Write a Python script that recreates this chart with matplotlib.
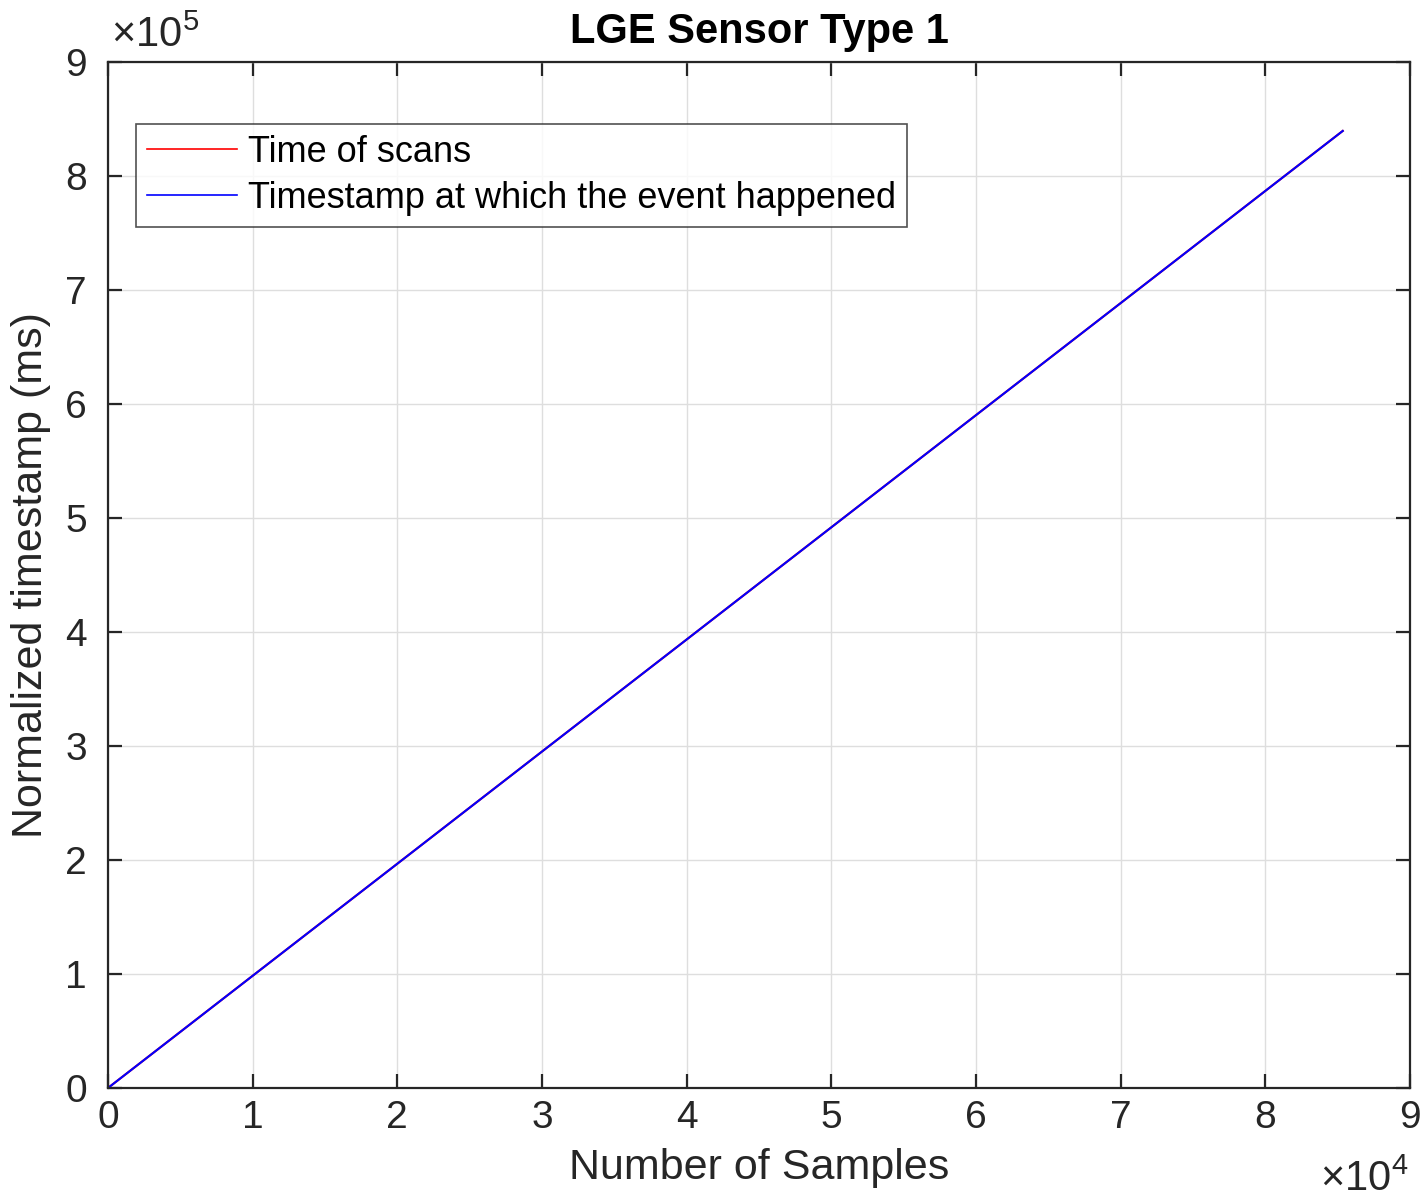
import matplotlib
matplotlib.use("Agg")
import matplotlib.pyplot as plt

plt.rcParams['font.family'] = ['Liberation Sans', 'DejaVu Sans']
plt.rcParams['mathtext.fontset'] = 'custom'
plt.rcParams['mathtext.rm'] = 'Liberation Sans'
plt.rcParams['mathtext.it'] = 'Liberation Sans'

# Sample index vs. normalized timestamp (ms)
samples = [0, 10000, 20000, 30000, 40000, 50000, 60000, 70000, 80000, 85350]
time_of_scans = [0, 98400, 196700, 295100, 393400, 491800, 590200, 688500, 786900, 839500]
event_timestamp = [0, 98400, 196700, 295100, 393400, 491800, 590200, 688500, 786900, 839500]

x_ticks = [0, 1, 2, 3, 4, 5, 6, 7, 8, 9]
y_ticks = [0, 1, 2, 3, 4, 5, 6, 7, 8, 9]

axis_color = '#262626'

fig = plt.figure(figsize=(14.26, 12.03), dpi=100)
ax = fig.add_axes([0.0757, 0.0956, 0.9131, 0.8529])

ax.plot(samples, time_of_scans, color='#ff0000', lw=1.5, label='Time of scans')
ax.plot(samples, event_timestamp, color='#0000ff', lw=1.5, label='Timestamp at which the event happened')

ax.set_xlim(0, 90000)
ax.set_ylim(0, 900000)
ax.set_xticks([v * 1e4 for v in x_ticks])
ax.set_xticklabels([str(v) for v in x_ticks])
ax.set_yticks([v * 1e5 for v in y_ticks])
ax.set_yticklabels([str(v) for v in y_ticks])

ax.grid(True, color='#dedede', lw=1.0)
ax.set_axisbelow(True)
for s in ax.spines.values():
    s.set_color(axis_color)
    s.set_linewidth(1.6)
ax.tick_params(direction='in', length=10, width=1.6, colors=axis_color,
               labelsize=28, top=True, right=True)
ax.tick_params(axis='x', pad=9)
ax.tick_params(axis='y', pad=15)

ax.set_xlabel('Number of Samples', fontsize=31, color=axis_color, labelpad=8)
ax.set_ylabel('Normalized timestamp (ms)', fontsize=31, color=axis_color, labelpad=10)
ax.set_title('LGE Sensor Type 1', fontsize=30, fontweight='bold', color='black', pad=14)

ax.text(0.002, 1.006, r'$\times10^5$', transform=ax.transAxes, fontsize=30,
        color=axis_color, ha='left', va='bottom')
ax.text(0.999, -0.070, r'$\times10^4$', transform=ax.transAxes, fontsize=30,
        color=axis_color, ha='right', va='top')

leg = ax.legend(loc='upper left', bbox_to_anchor=(0.0215, 0.9395), fontsize=26,
                frameon=True, fancybox=False, edgecolor=axis_color,
                handlelength=2.5, borderpad=0.3, labelspacing=0.3,
                handletextpad=0.3, borderaxespad=0.0)
leg.get_frame().set_linewidth(1.2)
for line in leg.get_lines():
    line.set_linewidth(1.2)
for t in leg.get_texts():
    t.set_color('black')

fig.savefig('out.png', dpi=100, facecolor='white')
